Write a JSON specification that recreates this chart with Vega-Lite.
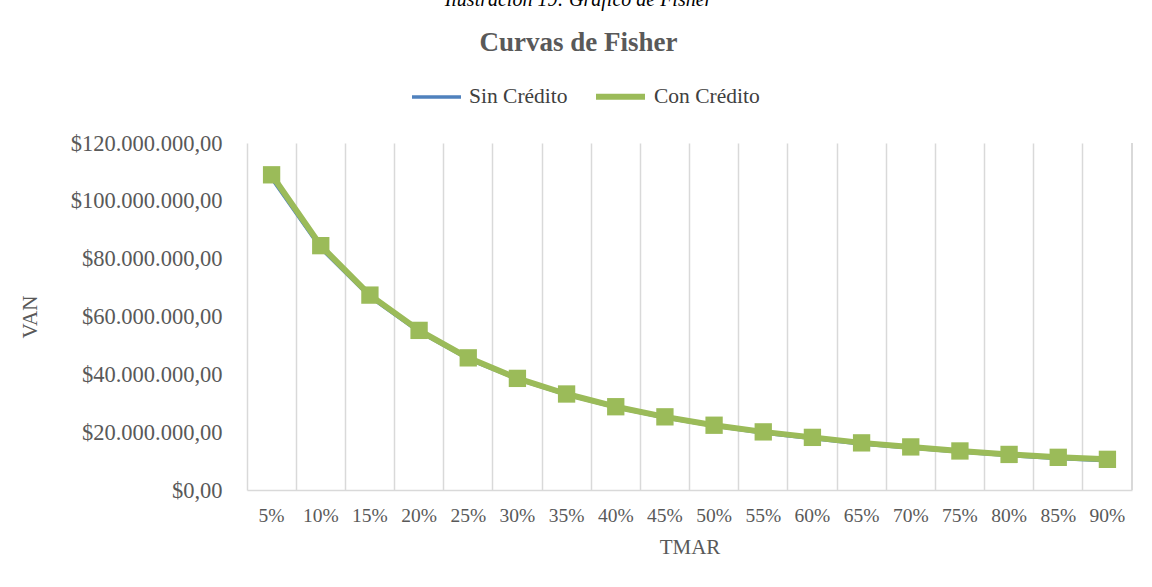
{
  "$schema": "https://vega.github.io/schema/vega-lite/v6.json",
  "width": 885,
  "height": 347,
  "autosize": {"type": "none"},
  "padding": {"left": 247, "top": 143, "right": 20, "bottom": 97},
  "background": "white",
  "config": {
    "locale": {"number": {"decimal": ",", "thousands": ".", "grouping": [3], "currency": ["$", ""]}},
    "view": {"stroke": null},
    "font": "Liberation Serif"
  },
  "title": {
    "text": "Ilustración 19: Gráfico de Fisher",
    "subtitle": "Curvas de Fisher",
    "anchor": "middle",
    "frame": "group",
    "dx": -111,
    "font": "Liberation Serif",
    "fontStyle": "italic",
    "fontWeight": "normal",
    "fontSize": 20,
    "color": "black",
    "subtitleFont": "Liberation Serif",
    "subtitleFontSize": 27,
    "subtitleFontWeight": "bold",
    "subtitleColor": "#595959",
    "subtitlePadding": 20,
    "offset": 13
  },
  "data": {
    "values": [
      {"tmar": "5%", "serie": "Sin Crédito", "van": 107800000},
      {"tmar": "10%", "serie": "Sin Crédito", "van": 83600000},
      {"tmar": "15%", "serie": "Sin Crédito", "van": 66800000},
      {"tmar": "20%", "serie": "Sin Crédito", "van": 54700000},
      {"tmar": "25%", "serie": "Sin Crédito", "van": 45300000},
      {"tmar": "30%", "serie": "Sin Crédito", "van": 38300000},
      {"tmar": "35%", "serie": "Sin Crédito", "van": 32900000},
      {"tmar": "40%", "serie": "Sin Crédito", "van": 28500000},
      {"tmar": "45%", "serie": "Sin Crédito", "van": 25000000},
      {"tmar": "50%", "serie": "Sin Crédito", "van": 22100000},
      {"tmar": "55%", "serie": "Sin Crédito", "van": 19700000},
      {"tmar": "60%", "serie": "Sin Crédito", "van": 17800000},
      {"tmar": "65%", "serie": "Sin Crédito", "van": 15900000},
      {"tmar": "70%", "serie": "Sin Crédito", "van": 14500000},
      {"tmar": "75%", "serie": "Sin Crédito", "van": 13100000},
      {"tmar": "80%", "serie": "Sin Crédito", "van": 11900000},
      {"tmar": "85%", "serie": "Sin Crédito", "van": 10900000},
      {"tmar": "90%", "serie": "Sin Crédito", "van": 10100000},
      {"tmar": "5%", "serie": "Con Crédito", "van": 109000000},
      {"tmar": "10%", "serie": "Con Crédito", "van": 84500000},
      {"tmar": "15%", "serie": "Con Crédito", "van": 67400000},
      {"tmar": "20%", "serie": "Con Crédito", "van": 55200000},
      {"tmar": "25%", "serie": "Con Crédito", "van": 45700000},
      {"tmar": "30%", "serie": "Con Crédito", "van": 38600000},
      {"tmar": "35%", "serie": "Con Crédito", "van": 33200000},
      {"tmar": "40%", "serie": "Con Crédito", "van": 28800000},
      {"tmar": "45%", "serie": "Con Crédito", "van": 25300000},
      {"tmar": "50%", "serie": "Con Crédito", "van": 22400000},
      {"tmar": "55%", "serie": "Con Crédito", "van": 20100000},
      {"tmar": "60%", "serie": "Con Crédito", "van": 18200000},
      {"tmar": "65%", "serie": "Con Crédito", "van": 16300000},
      {"tmar": "70%", "serie": "Con Crédito", "van": 14900000},
      {"tmar": "75%", "serie": "Con Crédito", "van": 13500000},
      {"tmar": "80%", "serie": "Con Crédito", "van": 12300000},
      {"tmar": "85%", "serie": "Con Crédito", "van": 11300000},
      {"tmar": "90%", "serie": "Con Crédito", "van": 10600000}
    ]
  },
  "layer": [
    {
      "mark": {"type": "line", "strokeJoin": "round"},
      "encoding": {
        "x": {
          "field": "tmar", "type": "ordinal", "sort": null,
          "scale": {"paddingInner": 0, "paddingOuter": 0},
          "axis": {
            "title": "TMAR", "titleFontSize": 21, "titleFontWeight": "normal", "titleColor": "#595959", "titlePadding": 12,
            "labelFontSize": 19.5, "labelColor": "#595959", "labelAngle": 0, "labelPadding": 16,
            "ticks": false, "grid": true, "gridColor": "#D9D9D9", "gridWidth": 1.5, "bandPosition": 0,
            "domainColor": "#D9D9D9", "domainWidth": 1.5
          }
        },
        "y": {
          "field": "van", "type": "quantitative",
          "scale": {"domain": [0, 120000000]},
          "axis": {
            "format": "$,.2f",
            "values": [0, 20000000, 40000000, 60000000, 80000000, 100000000, 120000000],
            "grid": false, "domain": false, "ticks": false,
            "labelFontSize": 22.5, "labelColor": "#595959", "labelPadding": 25,
            "title": "VAN", "titleFontSize": 21, "titleFontWeight": "normal", "titleColor": "#595959", "titlePadding": 30
          }
        },
        "color": {
          "field": "serie", "type": "nominal",
          "scale": {"domain": ["Sin Crédito", "Con Crédito"], "range": ["#4F81BD", "#9BBB59"]},
          "legend": {
            "orient": "none", "legendX": 163, "legendY": -74, "direction": "horizontal", "title": null,
            "labelFontSize": 21.5, "labelColor": "#404040", "labelFont": "Liberation Serif",
            "symbolType": "stroke", "symbolSize": 2400, "symbolStrokeWidth": 5,
            "columnPadding": 16, "labelOffset": 6
          }
        },
        "strokeWidth": {
          "field": "serie", "type": "nominal",
          "scale": {"domain": ["Sin Crédito", "Con Crédito"], "range": [3.5, 6]},
          "legend": null
        }
      }
    },
    {
      "transform": [{"filter": "datum.serie === 'Sin Crédito'"}],
      "mark": {"type": "point", "filled": true, "opacity": 1, "size": 80, "shape": "diamond"},
      "encoding": {
        "x": {"field": "tmar", "type": "ordinal", "sort": null},
        "y": {"field": "van", "type": "quantitative"},
        "color": {"field": "serie", "type": "nominal"}
      }
    },
    {
      "transform": [{"filter": "datum.serie === 'Con Crédito'"}],
      "mark": {"type": "point", "filled": true, "opacity": 1, "size": 300, "shape": "square"},
      "encoding": {
        "x": {"field": "tmar", "type": "ordinal", "sort": null},
        "y": {"field": "van", "type": "quantitative"},
        "color": {"field": "serie", "type": "nominal"}
      }
    },
    {
      "mark": {"type": "rule", "color": "#D9D9D9", "strokeWidth": 1.5},
      "encoding": {
        "x": {"datum": "90%", "type": "ordinal", "bandPosition": 1}
      }
    }
  ]
}
